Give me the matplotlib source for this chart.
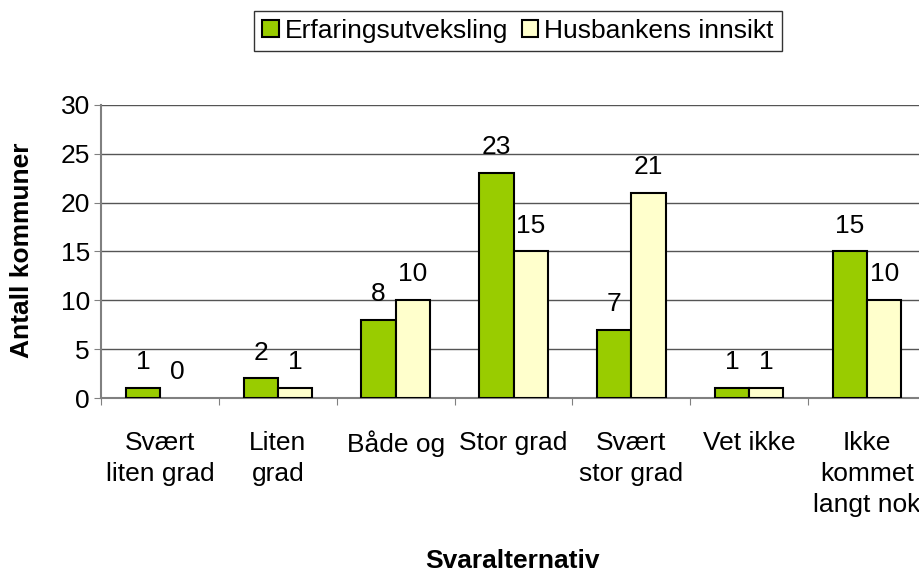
import matplotlib
matplotlib.use("Agg")
import matplotlib.pyplot as plt
import numpy as np
from matplotlib.patches import Patch

plt.rcParams['font.family'] = ['Liberation Sans', 'DejaVu Sans']

categories = ["Svært\nliten grad", "Liten\ngrad", "Både og", "Stor grad",
              "Svært\nstor grad", "Vet ikke", "Ikke\nkommet\nlangt nok"]
erfaring = [1, 2, 8, 23, 7, 1, 15]
husbank = [0, 1, 10, 15, 21, 1, 10]
series_names = ["Erfaringsutveksling", "Husbankens innsikt"]
colors = ["#99CC00", "#FFFFCC"]
FS = 19

fig = plt.figure(figsize=(9.2, 5.74), dpi=100)
ax = fig.add_axes([101/920, (574-398)/574, 825/920, (398-105)/574])

x = np.arange(len(categories))
w = 0.29
b1 = ax.bar(x - w/2, erfaring, w, color=colors[0], edgecolor="black", linewidth=1.5, zorder=3)
b2 = ax.bar(x + w/2, husbank, w, color=colors[1], edgecolor="black", linewidth=1.5, zorder=3)

for bars, vals in ((b1, erfaring), (b2, husbank)):
    for r, v in zip(bars, vals):
        if v == 0:
            r.set_linewidth(0)
        ax.annotate(str(v), (r.get_x() + r.get_width()/2, v), xytext=(0, 10),
                    textcoords="offset points", ha="center", va="bottom", fontsize=FS)

ax.set_xlim(-0.5, len(categories) - 0.5)
ax.set_ylim(0, 30)
ax.set_yticks(range(0, 31, 5))
ax.tick_params(axis='y', labelsize=FS, length=5, direction='out', color='#808080', pad=3)
ax.yaxis.grid(True, color='#555555', linewidth=1)
ax.set_axisbelow(True)

ax.set_xticks(np.arange(-0.5, len(categories) - 0.4, 1.0))
ax.set_xticklabels([])
ax.tick_params(axis='x', length=5, direction='out', color='#808080')
for i, c in enumerate(categories):
    ax.text(i, -3.35, c, ha='center', va='top', fontsize=FS, linespacing=1.38,
            transform=ax.transData)

for s in ['top', 'right']:
    ax.spines[s].set_visible(False)
ax.spines['left'].set_color('#808080')
ax.spines['left'].set_linewidth(1.5)
ax.spines['bottom'].set_color('#808080')
ax.spines['bottom'].set_linewidth(1.5)

fig.text(22/920, 1 - 250/574, "Antall kommuner", rotation=90, ha='center', va='center',
         fontsize=FS, fontweight='bold')
fig.text(512/920, 0.5/574, "Svaralternativ", ha='center', va='bottom',
         fontsize=FS, fontweight='bold')

handles = [Patch(facecolor=colors[0], edgecolor='black', linewidth=1.5),
           Patch(facecolor=colors[1], edgecolor='black', linewidth=1.5)]
leg = fig.legend(handles, series_names, loc='center', bbox_to_anchor=(518/920, 1 - 31/574),
                 ncol=2, fontsize=FS, frameon=True, fancybox=False, edgecolor='black',
                 handlelength=0.64, handleheight=0.64, handletextpad=0.23, columnspacing=0.5,
                 borderpad=0.3, borderaxespad=0)
leg.get_frame().set_linewidth(1.0)

fig.savefig("out.png", dpi=100)
